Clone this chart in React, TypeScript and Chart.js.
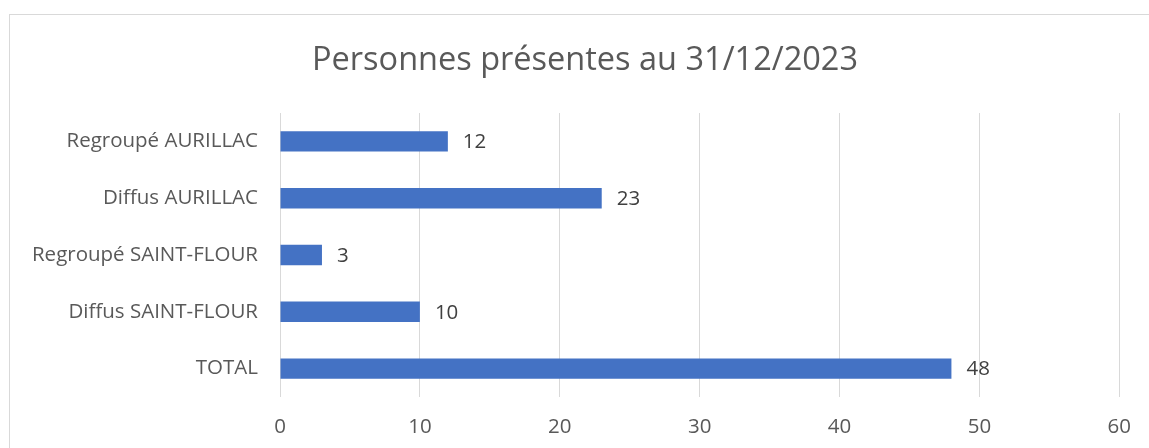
import React, { useEffect, useRef } from "react";
import { Chart, registerables } from "chart.js";

Chart.register(...registerables);

const titleText = "Personnes présentes au 31/12/2023";
const categories = [
  "Regroupé AURILLAC",
  "Diffus AURILLAC",
  "Regroupé SAINT-FLOUR",
  "Diffus SAINT-FLOUR",
  "TOTAL",
];
const values = [12, 23, 3, 10, 48];
const xTicks = [0, 10, 20, 30, 40, 50, 60];

const FONT = "'Open Sans', sans-serif";
const LABEL_SIZE = 20.5;

const framePlugin = {
  id: "frame",
  beforeDraw(chart: any) {
    const ctx = chart.ctx;
    ctx.save();
    ctx.fillStyle = "#ffffff";
    ctx.fillRect(0, 0, chart.width, chart.height);
    ctx.strokeStyle = "#d9d9d9";
    ctx.lineWidth = 1;
    ctx.strokeRect(9.5, 14.5, 1160, 600);
    ctx.restore();
  },
  afterDraw(chart: any) {
    const ctx = chart.ctx;
    ctx.save();
    ctx.fillStyle = "#595959";
    ctx.font = `32.5px ${FONT}`;
    ctx.textAlign = "center";
    ctx.textBaseline = "middle";
    ctx.fillText(titleText, 585, 61);
    ctx.restore();
  },
};

const valueLabels = {
  id: "valueLabels",
  afterDatasetsDraw(chart: any) {
    const ctx = chart.ctx;
    const meta = chart.getDatasetMeta(0);
    ctx.save();
    ctx.fillStyle = "#404040";
    ctx.font = `${LABEL_SIZE}px ${FONT}`;
    ctx.textAlign = "left";
    ctx.textBaseline = "middle";
    meta.data.forEach((bar: any, i: number) => {
      ctx.fillText(String(values[i]), bar.x + 15, bar.y + 1);
    });
    ctx.restore();
  },
};

export default function App() {
  const ref = useRef<HTMLCanvasElement>(null);
  useEffect(() => {
    document.body.style.margin = "0";
    const chart = new Chart(ref.current!, {
      type: "bar",
      data: {
        labels: categories,
        datasets: [
          {
            data: values,
            backgroundColor: "#4472C4",
            borderWidth: 0,
            barPercentage: 0.36,
            categoryPercentage: 1,
          },
        ],
      },
      options: {
        indexAxis: "y",
        animation: false,
        responsive: false,
        devicePixelRatio: 1,
        layout: { padding: { top: 113, right: 28, left: 0, bottom: 0 } },
        plugins: {
          legend: { display: false },
          title: { display: false },
          tooltip: { enabled: false },
        },
        scales: {
          x: {
            min: 0,
            max: 60,
            afterBuildTicks: (scale: any) => {
              scale.ticks = xTicks.map((v) => ({ value: v }));
            },
            afterFit: (scale: any) => {
              scale.height = 51;
            },
            grid: { color: "#d9d9d9", lineWidth: 1, drawTicks: false },
            border: { display: false },
            ticks: {
              padding: 18,
              color: "#595959",
              font: { family: FONT, size: LABEL_SIZE },
            },
          },
          y: {
            afterFit: (scale: any) => {
              scale.width = 280;
            },
            grid: { display: false, drawTicks: false },
            border: { display: false },
            ticks: {
              padding: 22,
              color: "#595959",
              font: { family: FONT, size: LABEL_SIZE },
            },
          },
        },
      },
      plugins: [framePlugin, valueLabels],
    });
    return () => chart.destroy();
  }, []);
  return <canvas ref={ref} width={1149} height={448} style={{ display: "block" }} />;
}
